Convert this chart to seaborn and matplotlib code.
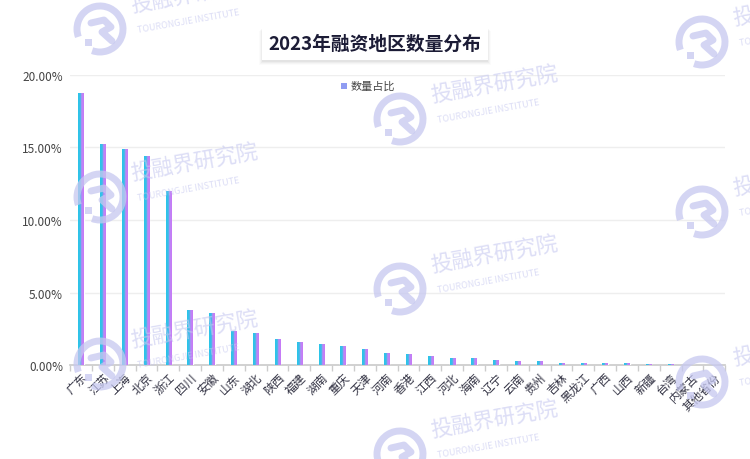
import numpy as np
import pandas as pd
import matplotlib
matplotlib.use('Agg')
import matplotlib.pyplot as plt
from matplotlib.patches import Arc, Rectangle, FancyBboxPatch
from matplotlib.lines import Line2D
import seaborn as sns

# data (percent)
regions = ['广东', '江苏', '上海', '北京', '浙江', '四川', '安徽', '山东', '湖北', '陕西',
           '福建', '湖南', '重庆', '天津', '河南', '香港', '江西', '河北', '海南', '辽宁',
           '云南', '贵州', '吉林', '黑龙江', '广西', '山西', '新疆', '台湾', '内蒙古', '其他省份']
share = [18.76, 15.24, 14.90, 14.38, 12.03, 3.79, 3.59, 2.34, 2.20, 1.80,
         1.62, 1.45, 1.31, 1.10, 0.83, 0.76, 0.62, 0.48, 0.48, 0.34,
         0.28, 0.28, 0.17, 0.17, 0.17, 0.17, 0.10, 0.10, 0.03, 0.03]
yticks = [0, 5, 10, 15, 20]

df = pd.DataFrame({'region': regions, 'share': share})

sns.set_theme(style='white')
plt.rcParams['font.family'] = ['Noto Sans CJK SC', 'DejaVu Sans']

fig = plt.figure(figsize=(7.5, 4.6), dpi=100)
ax = fig.add_axes([0.0933, 0.2043, 0.8737, 0.6305])

sns.barplot(data=df, x='region', y='share', color='#3cc3e6', width=0.24, ax=ax, zorder=3)

# gradient fill cyan -> purple inside each bar
cmap = matplotlib.colors.LinearSegmentedColormap.from_list(
    'g', [(0, '#27c6e8'), (0.4, '#3fbde9'), (0.6, '#b98af5'), (1, '#c978f7')])
grad = np.linspace(0, 1, 64).reshape(1, -1)
for p in ax.patches:
    x0, w, h = p.get_x(), p.get_width(), p.get_height()
    im = ax.imshow(grad, cmap=cmap, extent=[x0, x0 + w, 0, h], aspect='auto', zorder=4)
    im.set_clip_path(p)

ax.set_xlim(-0.5, len(regions) - 0.5)
ax.set_ylim(0, 20)
ax.set_yticks(yticks)
ax.set_yticklabels([f'{v:.2f}%' for v in yticks], fontsize=8.5, color='#444444')
ax.yaxis.grid(True, color='#eeeeee', linewidth=1, zorder=0)
ax.set_xlabel('')
ax.set_ylabel('')
ax.tick_params(axis='y', length=0, pad=5)
ax.set_xticks(range(len(regions)))
ax.set_xticklabels(regions, rotation=45, ha='right', rotation_mode='anchor', fontsize=8.5, color='#333344')
ax.tick_params(axis='x', length=0, pad=4)
ax.set_xticks(np.arange(-0.5, len(regions), 1), minor=True)
ax.tick_params(axis='x', which='minor', length=4, color='#cccccc', bottom=True)
for s in ['top', 'right', 'left']:
    ax.spines[s].set_visible(False)
ax.spines['bottom'].set_color('#cccccc')
ax.set_autoscale_on(False)

# title box with soft shadow (display pixels, origin bottom-left)
for i, a in enumerate([0.10, 0.08, 0.06, 0.04]):
    fig.patches.append(FancyBboxPatch((262 - i, 397 - i), 226 + 2 * i, 34, boxstyle='square,pad=0',
                       transform=None, fc='#999999', ec='none', alpha=a, zorder=-1))
fig.patches.append(FancyBboxPatch((262, 399), 226, 33, boxstyle='square,pad=0',
                   transform=None, fc='white', ec='none', zorder=0))
fig.text(0.5, 0.903, '2023年融资地区数量分布', ha='center', va='center', fontsize=13.5,
         fontweight='bold', color='#1c1c36')

# legend
fig.patches.append(Rectangle((0.455, 0.804), 0.0075, 0.013, transform=fig.transFigure,
                   fc='#8f9cf2', ec='none'))
fig.text(0.468, 0.811, '数量占比', ha='left', va='center', fontsize=8, color='#444444')

# watermarks (logo + text), logo centres in display pixels
wm = '#c6c8f0'
logos = [(100, 430), (100, 262), (100, 95),
         (400, 340), (400, 170), (400, 5),
         (702, 417), (702, 247), (702, 77)]
for cx, cy in logos:
    fig.patches.append(Arc((cx, cy), 46, 46, theta1=250, theta2=200, transform=None,
                           ec=wm, lw=5, alpha=0.75))
    fig.patches.append(Rectangle((cx - 15, cy - 17), 7, 7, transform=None, fc=wm, ec='none', alpha=0.75))
    fig.lines.append(Line2D([cx - 9, cx + 4, cx + 11, cx + 2, cx + 12],
                            [cy + 6, cy + 9, cy + 2, cy - 3, cy - 12],
                            transform=None, color=wm, lw=5, alpha=0.75,
                            solid_capstyle='round', solid_joinstyle='round'))
    fig.text((cx + 33) / 750, (cy + 13) / 460, '投融界研究院', fontsize=15.5, color=wm, alpha=0.6,
             rotation=10, ha='left', va='bottom', rotation_mode='anchor')
    fig.text((cx + 38) / 750, (cy - 5) / 460, 'TOURONGJIE INSTITUTE', fontsize=6.5, color=wm, alpha=0.6,
             rotation=10, ha='left', va='bottom', rotation_mode='anchor')

fig.savefig('out.png', dpi=100)
